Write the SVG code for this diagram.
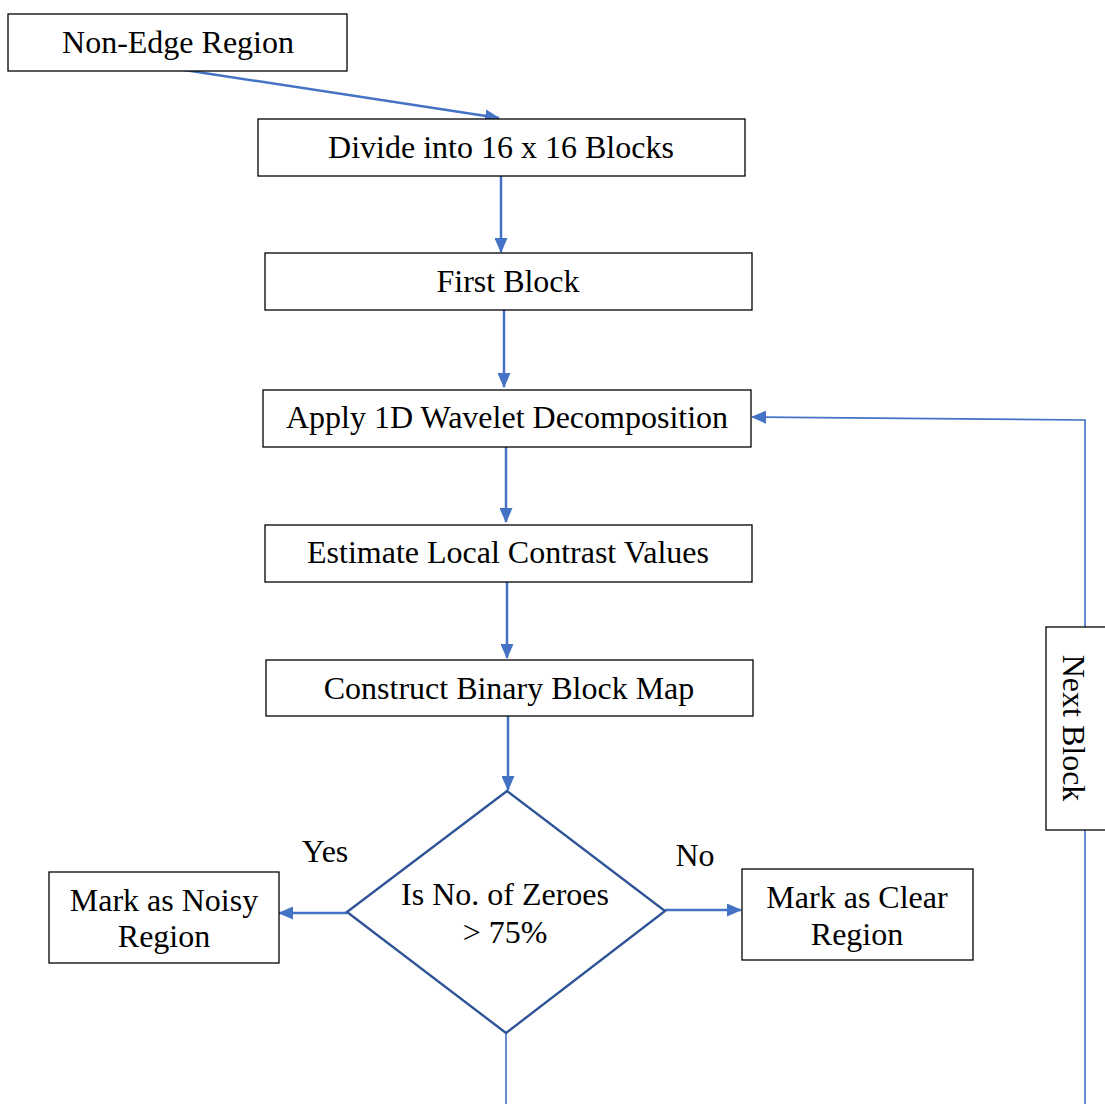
<svg xmlns="http://www.w3.org/2000/svg" width="1105" height="1104" viewBox="0 0 1105 1104">
<style>
.box{fill:#fff;stroke:#000;stroke-width:1.3}
.t{font-family:"Liberation Serif","Times New Roman",serif;font-size:32px;fill:#000;text-anchor:middle}
.c{fill:none;stroke:#4472C4;stroke-width:2.5}
.c1{fill:none;stroke:#4472C4;stroke-width:1.6}
.dia{fill:#fff;stroke:#2F5597;stroke-width:2.4}
</style>
<defs>
<marker id="ah" markerWidth="15" markerHeight="13" refX="14" refY="6.5" orient="auto" markerUnits="userSpaceOnUse">
<path d="M0,0 L15,6.5 L0,13 Z" fill="#4472C4"/>
</marker>
</defs>
<rect width="1105" height="1104" fill="#fff"/>
<g id="connectors">
<line class="c" x1="178" y1="69" x2="499" y2="118" marker-end="url(#ah)"/>
<line class="c" x1="501" y1="176" x2="501" y2="252" marker-end="url(#ah)"/>
<line class="c" x1="504" y1="310" x2="504" y2="387" marker-end="url(#ah)"/>
<line class="c" x1="506" y1="447" x2="506" y2="522" marker-end="url(#ah)"/>
<line class="c" x1="507" y1="582" x2="507" y2="658" marker-end="url(#ah)"/>
<line class="c" x1="508" y1="716" x2="508" y2="790" marker-end="url(#ah)"/>
<line class="c" x1="347" y1="913" x2="279" y2="913" marker-end="url(#ah)"/>
<line class="c" x1="665" y1="910" x2="741" y2="910" marker-end="url(#ah)"/>
<line class="c1" x1="506" y1="1033" x2="506" y2="1104"/>
<line class="c1" x1="1085" y1="1104" x2="1085" y2="830"/>
<polyline class="c1" points="1085,627 1085,420 752,417" marker-end="url(#ah)"/>
</g>
<g id="n-nonedge"><rect class="box" x="8" y="14" width="339" height="57"/><text class="t" x="178" y="53">Non-Edge Region</text></g>
<g id="n-divide"><rect class="box" x="258" y="119" width="487" height="57"/><text class="t" x="501" y="158">Divide into 16 x 16 Blocks</text></g>
<g id="n-first"><rect class="box" x="265" y="253" width="487" height="57"/><text class="t" x="508" y="292">First Block</text></g>
<g id="n-apply"><rect class="box" x="263" y="390" width="488" height="57"/><text class="t" x="507" y="428">Apply 1D Wavelet Decomposition</text></g>
<g id="n-estimate"><rect class="box" x="265" y="525" width="487" height="57"/><text class="t" x="508" y="563">Estimate Local Contrast Values</text></g>
<g id="n-construct"><rect class="box" x="266" y="660" width="487" height="56"/><text class="t" x="509" y="699">Construct Binary Block Map</text></g>
<g id="n-decision"><polygon class="dia" points="507,791 665,911 506,1033 347,912"/><text class="t" x="505" y="905">Is No. of Zeroes</text><text class="t" x="505" y="943">&gt; 75%</text></g>
<g id="lbl-yes"><text class="t" x="325" y="862">Yes</text></g>
<g id="lbl-no"><text class="t" x="695" y="866">No</text></g>
<g id="n-noisy"><rect class="box" x="49" y="872" width="230" height="91"/><text class="t" x="164" y="911">Mark as Noisy</text><text class="t" x="164" y="947">Region</text></g>
<g id="n-clear"><rect class="box" x="742" y="869" width="231" height="91"/><text class="t" x="857" y="908">Mark as Clear</text><text class="t" x="857" y="945">Region</text></g>
<g id="n-next"><rect class="box" x="1046" y="627" width="70" height="203"/><text class="t" transform="translate(1063,728) rotate(90)" x="0" y="0">Next Block</text></g>
</svg>
